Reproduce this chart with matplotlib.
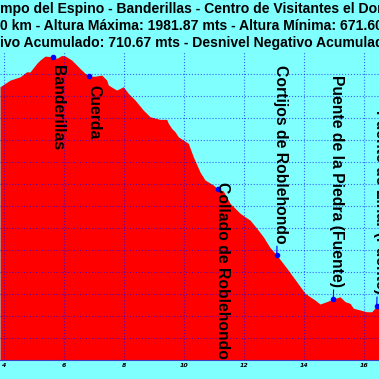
import matplotlib.pyplot as plt
import numpy as np

# perfil de altura (km, metros)
dist = [3.857, 4.190, 4.524, 4.747, 4.857, 5.080, 5.190, 5.357, 5.613, 5.747,
        5.913, 6.024, 6.247, 6.524, 6.690, 6.834, 7.024, 7.247, 7.414, 7.467,
        7.634, 7.747, 7.967, 8.134, 8.357, 8.634, 8.857, 9.190, 9.414, 9.467,
        9.580, 9.690, 9.800, 9.967, 10.134, 10.300, 10.524, 10.690, 10.967, 11.124,
        11.300, 11.524, 11.857, 12.024, 12.190, 12.414, 12.634, 12.857, 13.080, 13.414,
        13.747, 14.024, 14.190, 14.357, 14.524, 14.747, 14.967, 15.190, 15.357, 15.524,
        15.634, 15.857, 16.080, 16.247, 16.414, 16.490]
alt = [1840, 1870, 1885, 1908, 1907, 1946, 1961, 1979, 1976, 1969,
       1981.87, 1980, 1961, 1923, 1901, 1888, 1888, 1893, 1870, 1848,
       1834, 1825, 1840, 1810, 1780, 1734, 1704, 1692, 1692, 1674,
       1651, 1636, 1613, 1598, 1583, 1522, 1453, 1417, 1394, 1376,
       1367, 1311, 1266, 1250, 1235, 1198, 1159, 1110, 1076, 1017,
       955, 903, 887, 872, 854, 865, 877, 887, 865, 857,
       835, 827, 819, 819, 845, 850]

# puntos de paso
wp_names = ['Banderillas', 'Cuerda', 'Collado de Roblehondo', 'Cortijos de Roblehondo',
            'Puente de la Piedra (Fuente)', 'Fuente de Linar (Fuente)']
wp_dist = [5.613, 6.834, 11.124, 13.080, 14.967, 16.414]
wp_alt = [1976, 1888, 1376, 1076, 877, 845]
wp_below = [True, True, True, False, False, False]

titulo = ['mpo del Espino - Banderillas - Centro de Visitantes el Dornajo',
          '0 km - Altura Máxima: 1981.87 mts - Altura Mínima: 671.60 mts',
          'ivo Acumulado: 710.67 mts - Desnivel Negativo Acumulado']
xticks = [4, 6, 8, 10, 12, 14, 16]
yticks = np.arange(600, 2001, 100)

bg = '#80ffff'
W = 379.0
fig = plt.figure(figsize=(3.79, 3.79), dpi=100, facecolor=bg)
ax = fig.add_axes([0, 1 - 360 / W, 1, (360 - 51.5) / W])
ax.set_facecolor(bg)

ax.fill_between(dist, alt, 600, color='#ff0000', lw=0, zorder=1)
ax.set_xlim(3.857, 16.49)
ax.set_ylim(600, 2000)
ax.set_xticks(xticks)
ax.set_yticks(yticks)
ax.set_axisbelow(False)
ax.grid(True, color='#0000ff', linestyle=':', linewidth=0.8, alpha=0.6)
ax.tick_params(axis='x', length=0, pad=2, labelsize=4.5)
ax.tick_params(axis='y', length=0, labelleft=False)
for lab in ax.get_xticklabels():
    lab.set_fontweight('bold')
    lab.set_fontstyle('italic')
for s in ['left', 'right', 'top']:
    ax.spines[s].set_visible(False)
ax.spines['bottom'].set_color('#4040c0')

labels_below = []
for name, x, y, below in zip(wp_names, wp_dist, wp_alt, wp_below):
    ax.plot([x], [y], 'o', color='#0000ff', ms=3, zorder=5)
    if below:
        t = ax.annotate(name, (x, y), xytext=(3.5, -6), textcoords='offset points',
                        rotation=270, ha='center', va='top', fontsize=11.3,
                        fontweight='bold', family='Liberation Sans', zorder=6)
        labels_below.append(t)
    else:
        ax.annotate(name, (x, y), xytext=(2.5, 8.5), textcoords='offset points',
                    rotation=270, ha='center', va='bottom', fontsize=11.3,
                    fontweight='bold', family='Liberation Sans', zorder=6,
                    arrowprops=dict(arrowstyle='-', color='#0000ff', lw=0.8,
                                    shrinkA=0, shrinkB=0))

for i, line in enumerate(titulo):
    fig.text(0.0, 1 - (13 + 17 * i) / W, line, ha='left', va='baseline',
             fontsize=10.1, fontweight='bold', family='Liberation Sans')

# subir las etiquetas que se salen por debajo del eje
fig.canvas.draw()
r = fig.canvas.get_renderer()
y_base = ax.transData.transform((4, 600))[1]
for t in labels_below:
    bb = t.get_window_extent(r)
    if bb.y0 < y_base + 1:
        ox, oy = t.xyann
        t.xyann = (ox, oy + (y_base + 1 - bb.y0) * 72 / fig.dpi)

fig.savefig('out.png', dpi=100, facecolor=bg)
